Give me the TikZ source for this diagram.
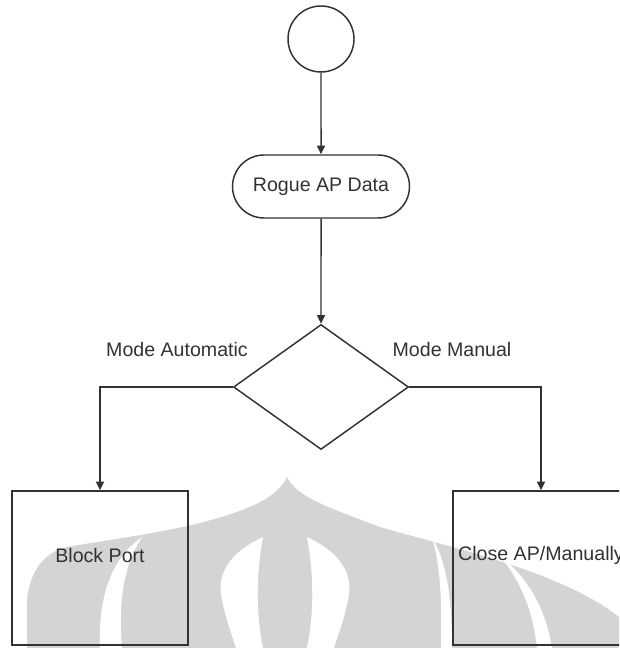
\documentclass[tikz,border=0pt]{standalone}
\usepackage{fontspec}
\setmainfont{Liberation Sans}
\usepackage{xcolor}
\usepackage{tikz}
\usetikzlibrary{shapes,arrows.meta,positioning}
\definecolor{wmgray}{RGB}{212,212,212}
\definecolor{ink}{RGB}{50,50,50}

\begin{document}
\begin{tikzpicture}[x=0.75pt,y=-0.75pt,color=ink,line width=1.1pt,
  flow/.style={-{Triangle[length=6.5pt,width=6pt]}},
  txt/.style={font=\fontsize{14.7}{17}\selectfont,inner sep=0pt},
  box/.style={rectangle,draw,minimum width=132pt,minimum height=115.5pt}]
\useasboundingbox (0,0) rectangle (619,648);
\clip (0,0) rectangle (619,648);

% Watermark in the background
\fill[wmgray] (27,648) -- (27,600) .. controls (30,570) and (45,552) .. (67,547)
  .. controls (100,541) and (150,535) .. (200,523)
  .. controls (250,510) and (278,497) .. (287,477)
  .. controls (296,497) and (330,508) .. (380,527)
  .. controls (440,545) and (560,570) .. (619,617) -- (619,648) -- cycle;
\fill[white] (142,537) .. controls (112,558) and (98,595) .. (100,648) -- (122,648)
  .. controls (118,600) and (124,565) .. (142,537) -- cycle;
\fill[white] (432,537) .. controls (445,560) and (452,590) .. (452,648) -- (441,648)
  .. controls (442,595) and (440,565) .. (432,537) -- cycle;
\fill[white] (500,556) .. controls (525,575) and (545,605) .. (552,648) -- (537,648)
  .. controls (533,610) and (520,580) .. (500,556) -- cycle;
\fill[white] (263,537) .. controls (235,550) and (215,570) .. (222,600)
  .. controls (226,620) and (232,635) .. (236,648) -- (263,648)
  .. controls (257,620) and (255,580) .. (263,537) -- cycle;
\fill[white] (307,537) .. controls (335,550) and (355,570) .. (348,600)
  .. controls (344,620) and (338,635) .. (334,648) -- (307,648)
  .. controls (313,620) and (315,580) .. (307,537) -- cycle;

% Flow nodes
\node[circle,draw,minimum size=49.5pt] (start) at (321,39) {};
\node[rounded rectangle,draw,txt,minimum width=132.75pt,minimum height=47.25pt] (data) at (321,186.5) {Rogue AP Data};
\node[diamond,draw,minimum width=131.25pt,minimum height=93.75pt,inner sep=0pt] (decide) at (321,387) {};
\node[box] (block) at (100,568) {};
\node[txt] (blocktext) at (100,555) {Block Port};
\node[box] (close) at (541,568) {};
\node[txt] (closetext) at (541,555) {Close AP/Manually};

% Branch labels
\node[txt] (autolbl) at (177,349) {Mode Automatic};
\node[txt] (manlbl) at (452,349) {Mode Manual};

% Connectors
\draw[flow] (start) -- (data);
\draw[flow] (data) -- (decide);
\draw[flow] (decide.west) -| (block.north);
\draw[flow] (decide.east) -| (close.north);
\end{tikzpicture}
\end{document}
